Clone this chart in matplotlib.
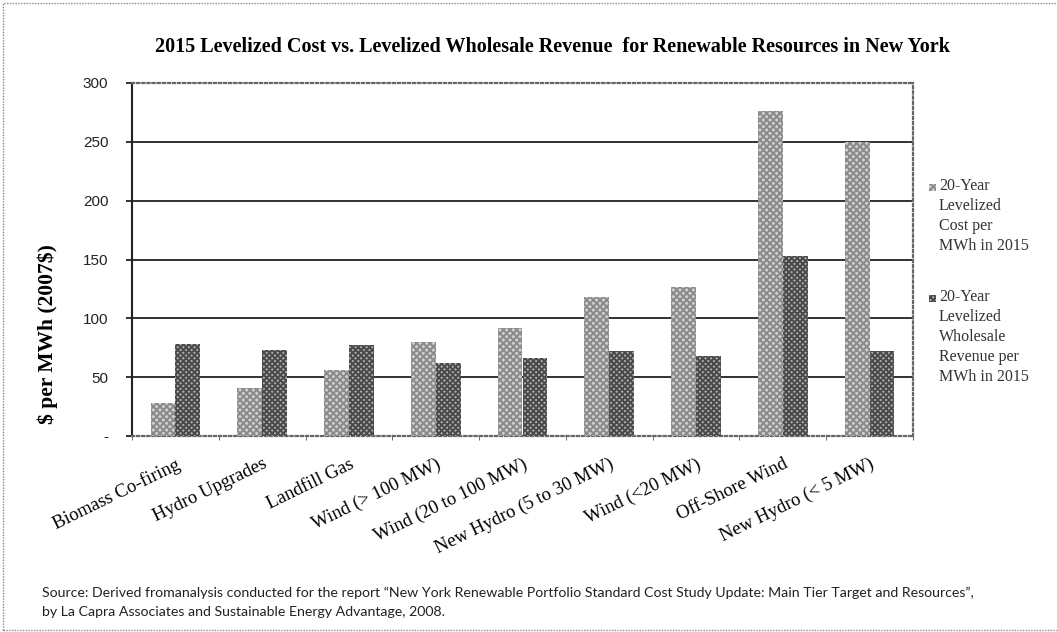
import matplotlib
matplotlib.use("Agg")
import matplotlib.pyplot as plt
import numpy as np
from matplotlib.patches import Rectangle

categories = ["Biomass Co-firing", "Hydro Upgrades", "Landfill Gas", "Wind (> 100 MW)",
              "Wind (20 to 100 MW)", "New Hydro (5 to 30 MW)", "Wind (<20 MW)",
              "Off-Shore Wind", "New Hydro (< 5 MW)"]
cost = [28, 41, 56, 80, 92, 118, 127, 276, 250]
revenue = [78, 73, 77, 62, 66, 72, 68, 153, 72]
yticks = [0, 50, 100, 150, 200, 250, 300]
ytick_labels = ["-", "50", "100", "150", "200", "250", "300"]
legend_labels = ["20-Year\nLevelized\nCost per\nMWh in 2015",
                 "20-Year\nLevelized\nWholesale\nRevenue per\nMWh in 2015"]

plt.rcParams['hatch.linewidth'] = 1.4
serif = "Liberation Serif"
sans = "Liberation Sans"

fig = plt.figure(figsize=(10.57, 6.32), dpi=100)
ax = fig.add_axes([132/1057, 1-436/632, (913-132)/1057, (436-83)/632])

x = np.arange(len(categories))
w = 1/3.5
cost_style = dict(facecolor="#d0d0d0", edgecolor="#8a8a8a", hatch="xxxxx", linewidth=0)
rev_style = dict(facecolor="#b0b0b0", edgecolor="#4a4a4a", hatch="xxxxxx", linewidth=0)
ax.bar(x - w/2, cost, w, zorder=3, **cost_style)
ax.bar(x + w/2, revenue, w, zorder=3, **rev_style)

ax.set_xlim(-0.5, len(categories) - 0.5)
ax.set_ylim(0, 300)
ax.set_yticks(yticks)
ax.set_yticklabels(ytick_labels, fontfamily=sans, fontsize=11, color="#222222")
for yv in yticks[1:-1]:
    ax.axhline(yv, color="#222222", linewidth=1.3, zorder=2)

ax.set_xticks(x)
ax.set_xticklabels(categories, rotation=26, ha="right", rotation_mode="anchor",
                   fontfamily=serif, fontsize=13.5)
ax.tick_params(axis="x", length=0, pad=14)
ax.set_xticks(np.arange(len(categories) + 1) - 0.5, minor=True)
ax.tick_params(axis="x", which="minor", length=3, color="#555555")
ax.tick_params(axis="y", length=4, width=1.3, color="#222222", pad=13)

ax.spines["left"].set_color("#222222")
ax.spines["left"].set_linewidth(1.5)
for s in ["top", "right", "bottom"]:
    ax.spines[s].set_linestyle((0, (1.0, 1.3)))
    ax.spines[s].set_color("#666666")
    ax.spines[s].set_linewidth(1.6)

ax.set_ylabel(r"\$ per MWh (2007\$)", fontfamily=serif, fontweight="bold", fontsize=15.5)
ax.yaxis.set_label_coords(-(132-58)/781, 0.29)

fig.text(552/1057, 1-47/632, "2015 Levelized Cost vs. Levelized Wholesale Revenue  for Renewable Resources in New York",
         ha="center", va="center", fontfamily=serif, fontweight="bold", fontsize=14.5)

# legend
legend_tops = [187, 298]
for lab, style, top in zip(legend_labels, [cost_style, rev_style], legend_tops):
    fig.patches.append(Rectangle((929/1057, 1-(top+4)/632), 7/1057, 7/632,
                                 transform=fig.transFigure, figure=fig, **style))
    fig.text(939/1057, 1-(top-9)/632, lab, ha="left", va="top", fontfamily=serif,
             fontsize=11.5, linespacing=1.33, color="#333333")

fig.text(42/1057, 1-593/632,
         "Source: Derived fromanalysis conducted for the report \u201cNew York Renewable Portfolio Standard Cost Study Update: Main Tier Target and Resources\u201d,",
         ha="left", va="center", fontfamily="Lato", fontsize=10.2, color="#222222")
fig.text(42/1057, 1-612/632, "by La Capra Associates and Sustainable Energy Advantage, 2008.",
         ha="left", va="center", fontfamily="Lato", fontsize=10.2, color="#222222")

# outer border
fig.patches.append(Rectangle((3/1057, 2/632), 1060/1057, 627/632, transform=fig.transFigure,
                             figure=fig, fill=False, edgecolor="#888888",
                             linestyle=(0, (1, 1)), linewidth=1))

fig.savefig("out.png", dpi=100)
